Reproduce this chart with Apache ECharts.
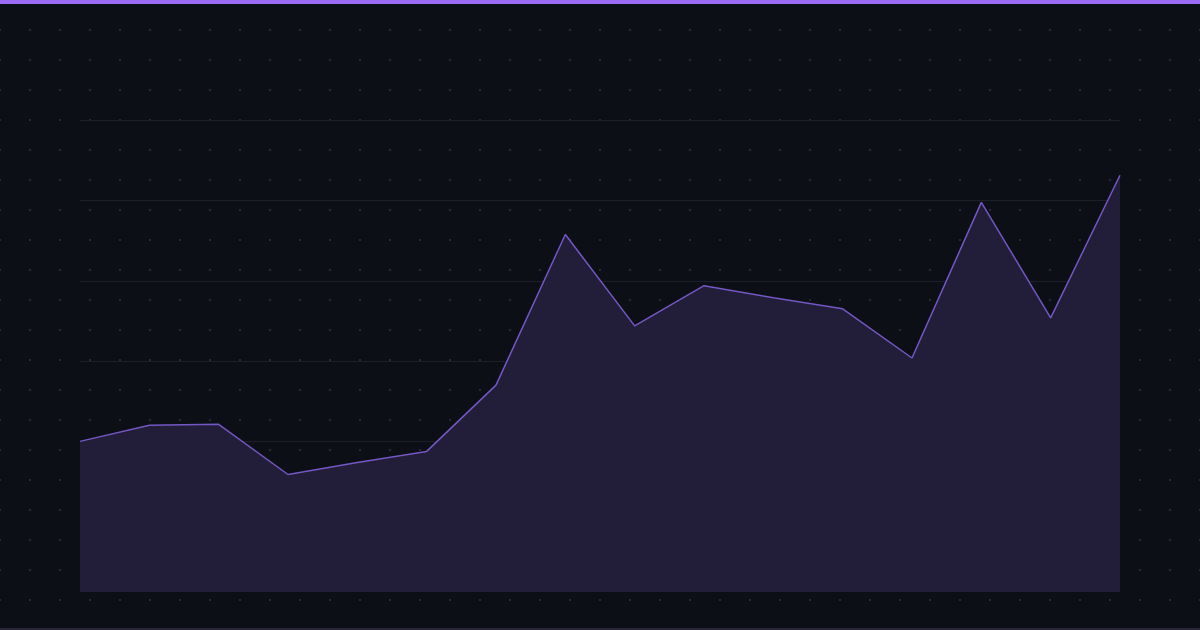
<!DOCTYPE html>
<html>
<head>
<meta charset="utf-8">
<script src="https://cdn.jsdelivr.net/npm/echarts@6/dist/echarts.min.js"></script>
<style>
  html, body { margin: 0; padding: 0; background: #0d0f17; }
  #chart {
    width: 1200px; height: 630px; box-sizing: border-box;
    border-top: 4px solid #9d6cf5;
    border-bottom: 2px solid #2a2838;
    background-color: #0d0f17;
    background-image: radial-gradient(circle, #262a36 1px, transparent 1.3px);
    background-size: 30px 30px;
    background-position: 15px 11px;
  }
</style>
</head>
<body>
<div id="chart"></div>
<script>
// 16 points, values (arbitrary units, baseline 0)
const points = ["1", "2", "3", "4", "5", "6", "7", "8", "9", "10", "11", "12", "13", "14", "15", "16"];
const values = [150, 166, 167, 117, 129, 140, 206, 356, 265, 305, 293, 282, 233, 388, 273, 415];

var myChart = echarts.init(document.getElementById("chart"));

const option = {
  animation: false,
  grid: [
    // data area
    { left: 80, right: 80, top: 116, bottom: 36 },
    // horizontal guide lines only
    { left: 80, right: 80, top: 116, bottom: 106 },
  ],
  xAxis: [
    { gridIndex: 0, type: "category", data: points, boundaryGap: false, show: false },
    { gridIndex: 1, type: "value", show: false },
  ],
  yAxis: [
    { gridIndex: 0, type: "value", min: 0, max: 470, show: false },
    {
      gridIndex: 1, type: "value", min: 80, max: 480, interval: 80,
      axisLine: { show: false }, axisTick: { show: false }, axisLabel: { show: false },
      splitLine: { show: true, lineStyle: { color: "#1d1f2b", width: 1 } },
    },
  ],
  series: [
    {
      type: "line",
      xAxisIndex: 0,
      yAxisIndex: 0,
      data: values,
      symbol: "none",
      lineStyle: { color: "#7457c4", width: 1.5 },
      areaStyle: { color: "#221d38", opacity: 1 },
      z: 1,
    },
  ],
};
myChart.setOption(option);
</script>
</body>
</html>
